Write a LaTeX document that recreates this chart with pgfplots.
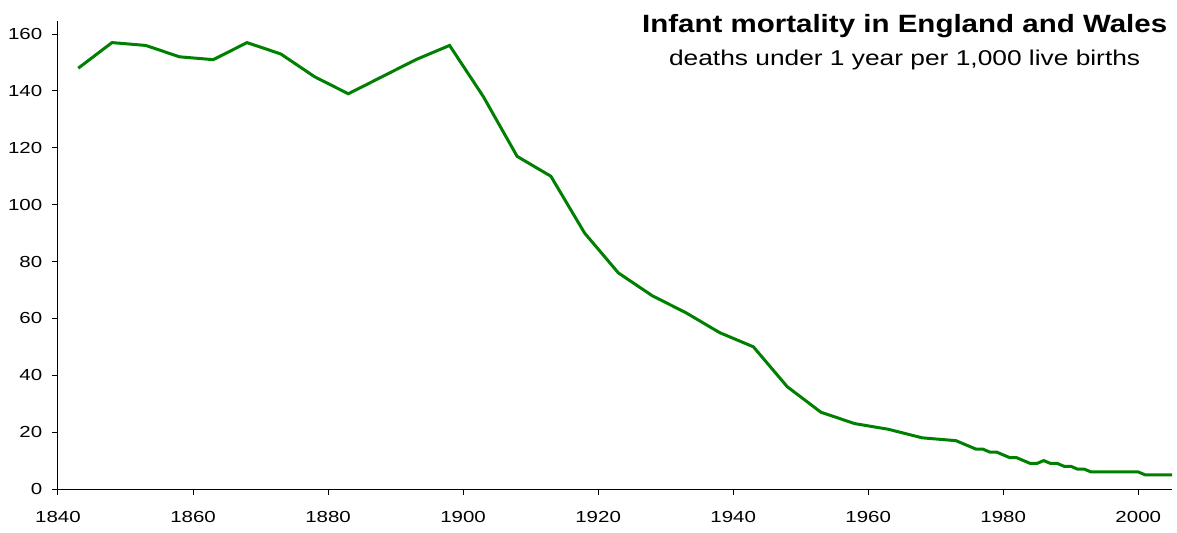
\documentclass[border=0pt]{standalone}
\usepackage{fontspec}
\setmainfont{Liberation Sans}
\newfontfamily\tickfont{Liberation Sans}[FakeStretch=1.28]
\newfontfamily\titlefont{Liberation Sans}[FakeStretch=1.18]
\newfontfamily\subfont{Liberation Sans}[FakeStretch=1.23]
\usepackage{pgfplots}
\pgfplotsset{compat=1.18}
\definecolor{linegreen}{RGB}{0,128,0}
\begin{document}
\begin{tikzpicture}
\begin{axis}[
  name=ax,
  scale only axis,
  width=557pt, height=234.15pt,
  xmin=1840, xmax=2005, ymin=0, ymax=164.7,
  axis x line*=bottom, axis y line*=left,
  axis line style={black, line width=0.5pt, -},
  xtick={1840,1860,...,2000},
  ytick={0,20,...,160},
  tick align=outside,
  major tick length=2.75pt,
  tick style={black, line width=0.5pt},
  x tick label style={/pgf/number format/1000 sep={}, yshift=-4.7pt},
  y tick label style={xshift=-1.6pt},
  /pgf/number format/assume math mode=true,
  tick label style={font=\tickfont\fontsize{8}{9.6}\selectfont},
  clip=false,
]
\addplot[linegreen, line width=1.5pt] coordinates {
(1843,148) (1848,157) (1853,156) (1858,152) (1863,151) (1868,157) (1873,153)
(1878,145) (1883,139) (1888,145) (1893,151) (1898,156) (1903,138) (1908,117)
(1913,110) (1918,90) (1923,76) (1928,68) (1933,62) (1938,55) (1943,50)
(1948,36) (1953,27) (1958,23) (1963,21) (1968,18) (1973,17) (1974,16) (1975,15)
(1976,14) (1977,14) (1978,13) (1979,13) (1980,12) (1981,11) (1982,11)
(1983,10) (1984,9) (1985,9) (1986,10) (1987,9) (1988,9) (1989,8) (1990,8)
(1991,7) (1992,7) (1993,6) (1994,6) (1995,6) (1996,6) (1997,6) (1998,6)
(1999,6) (2000,6) (2001,5) (2002,5) (2003,5) (2004,5) (2005,5)
};
\node[anchor=base, font=\titlefont\fontsize{12.5}{14}\selectfont\bfseries] at ([yshift=-5.8pt]rel axis cs:0.760,1) {Infant mortality in England and Wales};
\node[anchor=base, font=\subfont\fontsize{10.7}{12.5}\selectfont] at ([yshift=-22.5pt]rel axis cs:0.760,1) {deaths under 1 year per 1,000 live births};
\end{axis}
\path ([xshift=-29pt,yshift=-21.5pt]ax.south west) rectangle ([xshift=2.5pt,yshift=10.35pt]ax.north east);
\end{tikzpicture}
\end{document}
